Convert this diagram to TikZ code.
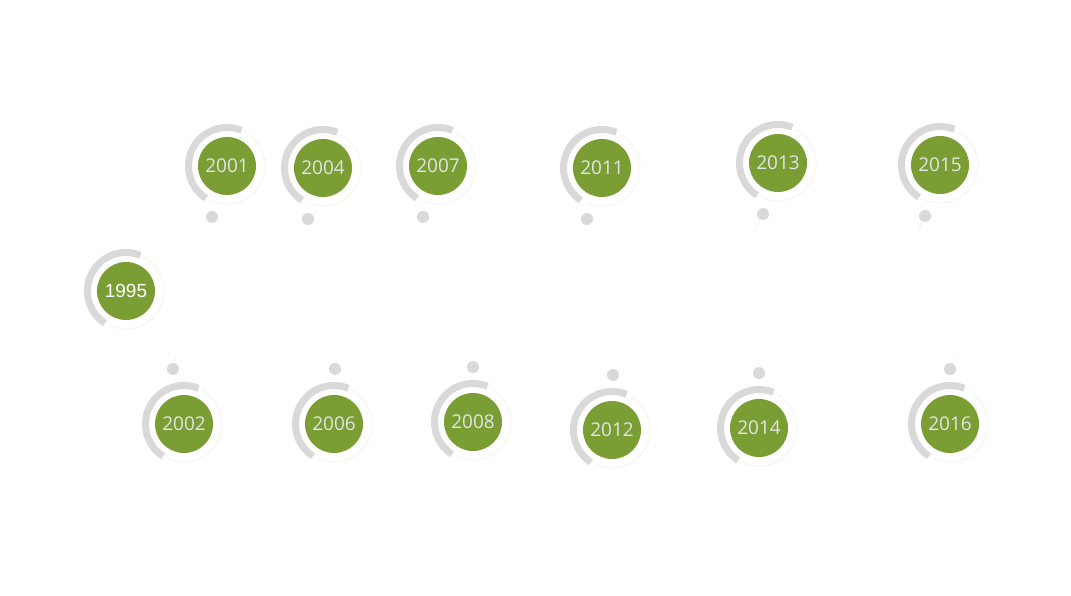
\documentclass[tikz,border=0pt]{standalone}
\usepackage{fontspec}
\setmainfont{Open Sans}
\newfontfamily\arialfont{Liberation Sans}
\usetikzlibrary{positioning, calc}

\definecolor{leafgreen}{RGB}{122,158,52}
\definecolor{ringgray}{RGB}{217,217,217}
\definecolor{faintgray}{RGB}{242,242,242}
\definecolor{labelgray}{RGB}{228,228,228}

\begin{document}
\begin{tikzpicture}[
    x=0.025cm, y=0.025cm,
    year/.style={
        circle,
        fill=leafgreen,
        minimum size=1.45cm,
        inner sep=0pt,
        text=labelgray,
        font=\fontsize{13.5}{15}\selectfont
    },
    ring/.style={
        draw=ringgray,
        line width=0.175cm
    },
    halo/.style={
        draw=faintgray,
        line width=0.6pt
    },
    pin/.style={
        circle,
        fill=ringgray,
        minimum size=0.3cm,
        inner sep=0pt
    },
    stem/.style={
        draw=faintgray,
        line width=0.6pt
    }
]

    % Canvas
    \useasboundingbox (0,0) rectangle (1071,-596);

    % Start
    \node[year, text=white, font=\arialfont\fontsize{13.5}{15}\selectfont] (y1995) at (126,-291) {1995};

    % Top row
    \foreach \yr/\px/\py in {2001/227/166, 2004/323/168, 2007/438/166,
                             2011/602/168, 2013/778/163, 2015/940/165} {
        \node[year] (y\yr) at (\px,-\py) {\yr};
        \node[pin] (p\yr) at ($(y\yr)+(-15,-51)$) {};
    }

    % Bottom row
    \foreach \yr/\px/\py/\dx in {2002/184/424/-11, 2006/334/424/1, 2008/473/422/0,
                                 2012/612/430/1, 2014/759/428/0, 2016/950/424/0} {
        \node[year] (y\yr) at (\px,-\py) {\yr};
        \node[pin] (p\yr) at ($(y\yr)+(\dx,55)$) {};
    }

    % Rings
    \foreach \yr in {1995,2001,2004,2007,2011,2013,2015,2002,2006,2008,2012,2014,2016} {
        \draw[halo] (y\yr.center) ++(-115:0.95cm) arc[start angle=-115, end angle=62, radius=0.95cm];
        \draw[ring] (y\yr.center) ++(68:0.9625cm) arc[start angle=68, end angle=237, radius=0.9625cm];
    }

    % Stems
    \coordinate (s2013) at (754,-232);
    \coordinate (s2015) at (918,-232);
    \coordinate (s2002) at (176,-357);
    \coordinate (s2016) at (955,-357);
    \draw[stem] (p2013) -- (s2013);
    \draw[stem] (p2015) -- (s2015);
    \draw[stem] (p2002) -- (s2002);
    \draw[stem] (p2016) -- (s2016);

\end{tikzpicture}
\end{document}
